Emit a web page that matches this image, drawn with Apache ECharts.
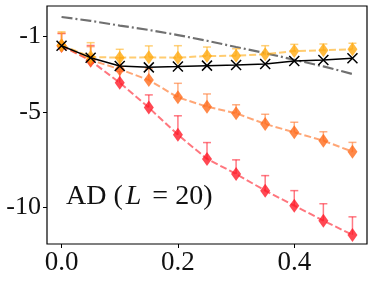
<!DOCTYPE html>
<html>
<head>
<meta charset="utf-8">
<script src="https://cdn.jsdelivr.net/npm/echarts@6/dist/echarts.min.js"></script>
<style>html,body{margin:0;padding:0;background:#fff}#c{width:374px;height:283px}</style>
</head>
<body>
<div id="c"></div>
<script>
const xs = [0, 0.05, 0.1, 0.15, 0.2, 0.25, 0.3, 0.35, 0.4, 0.45, 0.5];
const exact = [-1.51, -2.14, -2.58, -2.65, -2.61, -2.56, -2.53, -2.47, -2.32, -2.26, -2.17];
const bound = [0, -0.2, -0.45, -0.68, -0.95, -1.25, -1.58, -1.9, -2.25, -2.6, -3.0];
const yellow = [-1.48, -2.1, -2.14, -2.12, -2.14, -2.05, -2.04, -1.96, -1.79, -1.75, -1.70];
const yellowErr = [0.7, 0.75, 0.44, 0.6, 0.63, 0.47, 0.37, 0.45, 0.35, 0.33, 0.32];
const orange = [-1.5, -2.26, -2.75, -3.32, -4.23, -4.72, -5.07, -5.63, -6.07, -6.51, -7.09];
const orangeErr = [0.65, 0.7, 0.6, 0.6, 0.74, 0.67, 0.45, 0.51, 0.53, 0.47, 0.49];
const red = [-1.52, -2.3, -3.46, -4.77, -6.2, -7.47, -8.26, -9.14, -9.93, -10.72, -11.47];
const redErr = [0.65, 0.8, 0.6, 0.67, 1.0, 0.86, 0.74, 0.79, 0.79, 0.89, 0.95];
const yTicks = [-1, -5, -10];
const xTicks = [0, 0.2, 0.4];

const pair = a => xs.map((x, i) => [x, a[i]]);
const triple = (a, e) => xs.map((x, i) => [x, a[i], e[i]]);

function errSeries(vals, errs, color) {
  return {
    type: 'custom',
    data: triple(vals, errs),
    z: 3,
    renderItem: (params, api) => {
      const x = api.value(0), y = api.value(1), e = api.value(2);
      const p0 = api.coord([x, y]);
      const p1 = api.coord([x, y + e]);
      const st = {stroke: color, lineWidth: 1.5, opacity: 0.6};
      return {type: 'group', children: [
        {type: 'line', shape: {x1: p0[0], y1: p0[1], x2: p1[0], y2: p1[1]}, style: st},
        {type: 'line', shape: {x1: p1[0] - 4, y1: p1[1], x2: p1[0] + 4, y2: p1[1]}, style: st}
      ]};
    }
  };
}
function lineSeries(vals, color, z) {
  return {
    type: 'line', data: pair(vals), z: z,
    symbol: 'diamond', symbolSize: [10, 14],
    itemStyle: {color: color, opacity: 0.8},
    lineStyle: {color: color, width: 2, type: [7, 3], opacity: 0.6},
    animation: false
  };
}

const chart = echarts.init(document.getElementById('c'));
const serif = 'Liberation Serif';
chart.setOption({
  animation: false,
  grid: {left: 47, right: 7, top: 6, bottom: 39, show: true, borderColor: '#000', borderWidth: 1.2},
  title: {
    text: '{n|AD (}{i|L}{n| = 20)}', left: 61, top: 178,
    textStyle: {fontFamily: serif, fontSize: 28, fontWeight: 'normal', color: '#111',
      rich: {
        n: {fontFamily: serif, fontSize: 28, color: '#111'},
        i: {fontFamily: serif, fontSize: 28, fontStyle: 'italic', color: '#111', padding: [0, 4, 0, 3]}
      }}
  },
  xAxis: {
    type: 'value', min: -0.025, max: 0.525,
    axisLine: {show: false, onZero: false}, splitLine: {show: false},
    axisTick: {show: true, length: 4, customValues: xTicks, lineStyle: {color: '#000'}},
    axisLabel: {customValues: xTicks, formatter: v => v.toFixed(1), fontFamily: serif, fontSize: 27, color: '#111', margin: 5}
  },
  yAxis: {
    type: 'value', min: -11.95, max: 0.58,
    axisLine: {show: false, onZero: false}, splitLine: {show: false},
    axisTick: {show: true, length: 4, customValues: yTicks, lineStyle: {color: '#000'}},
    axisLabel: {customValues: yTicks, formatter: v => String(v), fontFamily: serif, fontSize: 26, color: '#111', margin: 6}
  },
  series: [
    {type: 'line', data: pair(bound), symbol: 'none', z: 1,
     lineStyle: {color: '#707070', width: 2.2, type: [11, 3, 2, 3]}},
    errSeries(red, redErr, '#ff2030'),
    lineSeries(red, '#ff1a28', 4),
    errSeries(orange, orangeErr, '#ff7a30'),
    lineSeries(orange, '#ff6a1a', 5),
    errSeries(yellow, yellowErr, '#ffb020'),
    lineSeries(yellow, '#ffaa10', 6),
    {type: 'line', data: pair(exact), z: 8, symbol: 'path://M0,0L10,10M10,0L0,10', symbolSize: 10,
     itemStyle: {color: 'none', borderColor: '#000', borderWidth: 1.5},
     lineStyle: {color: '#000', width: 1.5}}
  ]
});
</script>
</body>
</html>
